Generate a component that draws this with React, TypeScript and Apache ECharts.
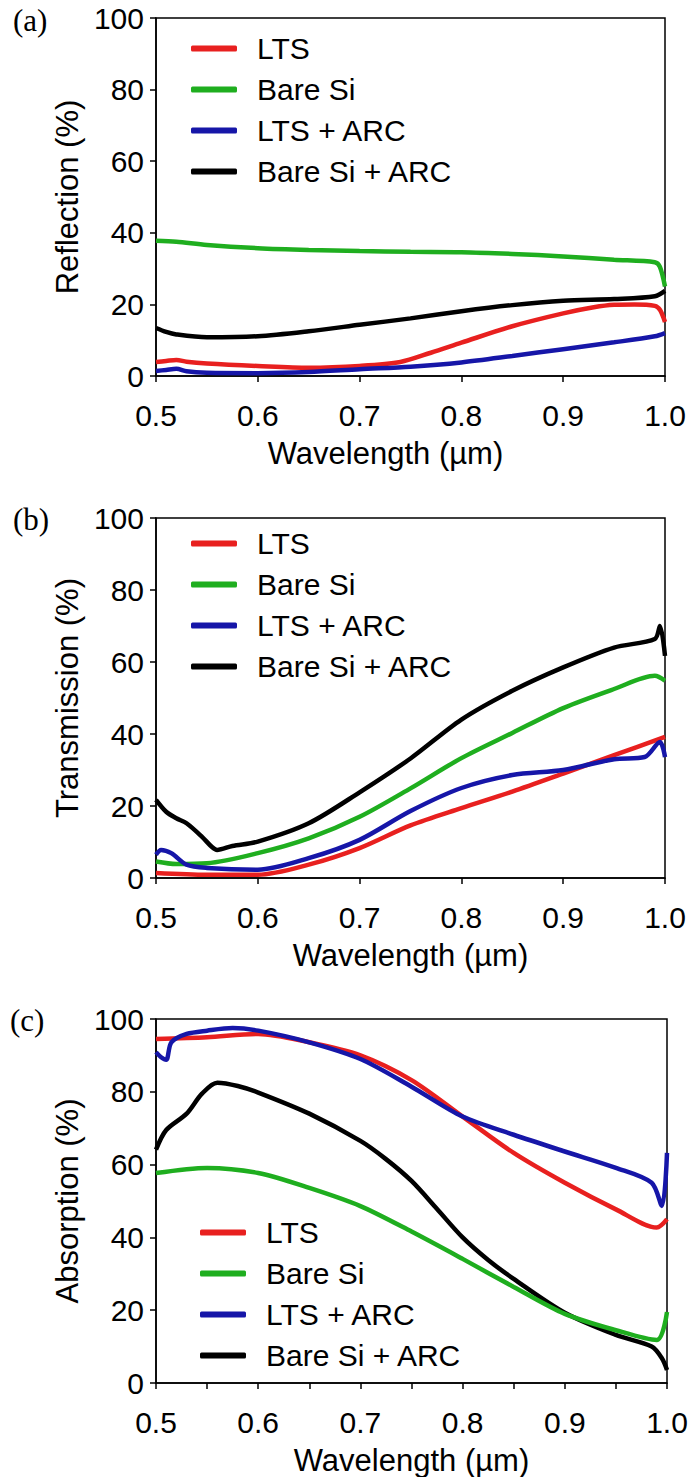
import React, { useEffect, useRef } from "react";
import * as echarts from "echarts";

// ---------- data (wavelength µm, percent) ----------
const seriesNames = ["LTS", "Bare Si", "LTS + ARC", "Bare Si + ARC"];
const seriesColors = ["#e8201f", "#1fae1f", "#1616a8", "#000000"];
const xTicks = [0.5, 0.6, 0.7, 0.8, 0.9, 1.0];
const yTicks = [0, 20, 40, 60, 80, 100];

// (a) Reflection
const reflLTS = [[0.5,3.9],[0.51,4.2],[0.52,4.5],[0.53,4.0],[0.55,3.5],[0.6,2.8],[0.65,2.3],[0.7,2.8],[0.74,3.9],[0.77,6.5],[0.8,9.3],[0.85,13.9],[0.9,17.5],[0.93,19.2],[0.95,19.9],[0.97,20.0],[0.99,19.6],[0.995,18.5],[1.0,15.1]];
const reflBareSi = [[0.5,37.8],[0.52,37.5],[0.55,36.6],[0.6,35.7],[0.65,35.2],[0.7,34.9],[0.75,34.7],[0.8,34.6],[0.85,34.1],[0.9,33.4],[0.95,32.5],[0.99,31.8],[0.995,30.5],[1.0,25.0]];
const reflLTSARC = [[0.5,1.4],[0.51,1.7],[0.52,2.0],[0.53,1.3],[0.55,0.9],[0.6,0.8],[0.65,1.1],[0.7,1.9],[0.75,2.6],[0.8,3.8],[0.85,5.6],[0.9,7.5],[0.95,9.4],[0.99,11.1],[1.0,12.0]];
const reflBareSiARC = [[0.5,13.4],[0.51,12.3],[0.52,11.6],[0.55,10.8],[0.6,11.1],[0.65,12.5],[0.7,14.3],[0.75,16.1],[0.8,18.1],[0.85,19.8],[0.9,21.0],[0.95,21.5],[0.99,22.3],[1.0,23.8]];

// (b) Transmission
const transLTS = [[0.5,1.4],[0.55,0.9],[0.6,0.9],[0.65,3.7],[0.7,8.3],[0.75,14.6],[0.8,19.4],[0.85,24.0],[0.9,29.0],[0.95,34.1],[1.0,39.2]];
const transBareSi = [[0.5,4.6],[0.52,3.9],[0.55,4.1],[0.6,6.9],[0.65,11.0],[0.7,17.0],[0.75,24.9],[0.8,33.3],[0.85,40.3],[0.9,47.2],[0.95,52.5],[0.99,56.2],[1.0,54.8]];
const transLTSARC = [[0.5,6.5],[0.505,7.8],[0.515,6.9],[0.53,3.7],[0.55,2.8],[0.6,2.3],[0.65,5.5],[0.7,10.6],[0.75,18.6],[0.8,25.0],[0.85,28.6],[0.9,30.0],[0.95,33.0],[0.98,33.6],[0.995,37.8],[1.0,33.6]];
const transBareSiARC = [[0.5,21.7],[0.51,18.4],[0.52,16.6],[0.53,15.2],[0.545,11.5],[0.555,8.6],[0.56,7.8],[0.575,8.9],[0.6,10.1],[0.65,15.2],[0.7,23.8],[0.75,33.2],[0.8,44.0],[0.85,52.0],[0.9,58.5],[0.95,64.0],[0.99,66.4],[0.995,70.0],[1.0,61.7]];

// (c) Absorption
const absLTS = [[0.5,94.5],[0.55,95.0],[0.6,95.9],[0.65,93.6],[0.7,90.0],[0.75,83.2],[0.8,73.2],[0.85,63.2],[0.9,55.0],[0.95,47.7],[0.99,42.7],[1.0,45.0]];
const absBareSi = [[0.5,57.7],[0.55,59.1],[0.6,57.7],[0.65,53.6],[0.7,48.6],[0.75,41.6],[0.8,34.1],[0.85,26.4],[0.9,19.0],[0.95,14.5],[0.99,11.8],[1.0,19.5]];
const absLTSARC = [[0.5,90.9],[0.505,89.5],[0.51,88.8],[0.515,93.6],[0.53,95.9],[0.55,96.8],[0.575,97.5],[0.6,96.8],[0.65,93.6],[0.7,89.0],[0.75,81.4],[0.8,73.2],[0.85,68.2],[0.9,63.6],[0.95,59.1],[0.985,55.0],[0.995,48.6],[1.0,63.2]];
const absBareSiARC = [[0.5,64.1],[0.51,69.5],[0.53,74.0],[0.545,79.5],[0.56,82.5],[0.58,81.6],[0.6,79.8],[0.65,74.0],[0.7,66.5],[0.725,61.5],[0.75,55.5],[0.775,47.8],[0.8,40.0],[0.825,33.8],[0.85,28.6],[0.9,19.3],[0.95,13.2],[0.985,10.0],[0.995,6.8],[1.0,3.6]];

const panels = [
  { label: "(a)", yName: "Reflection (%)", data: [reflLTS, reflBareSi, reflLTSARC, reflBareSiARC] },
  { label: "(b)", yName: "Transmission (%)", data: [transLTS, transBareSi, transLTSARC, transBareSiARC] },
  { label: "(c)", yName: "Absorption (%)", data: [absLTS, absBareSi, absLTSARC, absBareSiARC] },
];

// ---------- layout ----------
const grids = [
  { left: 156, top: 18, width: 509, height: 358 },
  { left: 156, top: 518, width: 509, height: 360 },
  { left: 156, top: 1019, width: 511, height: 366 },
];
const legendPos = [
  { left: 186, top: 28 },
  { left: 186, top: 523 },
  { left: 195, top: 1212 },
];
const labelPos = [
  { left: 13, top: 5 },
  { left: 13, top: 504 },
  { left: 10, top: 1005 },
];
const xNamePad = [[0, 50, 0, 0], [0, 0, 0, 0], [0, 0, 0, 0]];

const FONT = "Liberation Sans, Arial, sans-serif";

export default function App() {
  const ref = useRef<HTMLDivElement>(null);
  useEffect(() => {
    document.body.style.margin = "0";
    const chart = echarts.init(ref.current!, null, { renderer: "svg" });
    const xAxis: any[] = [];
    const yAxis: any[] = [];
    const series: any[] = [];
    const legend: any[] = [];
    const graphic: any[] = [];
    panels.forEach((p, i) => {
      const minor = i === 2;
      xAxis.push({
        gridIndex: i,
        type: "value",
        min: 0.5,
        max: 1.0,
        interval: minor ? 0.05 : 0.1,
        name: "Wavelength (µm)",
        nameLocation: "middle",
        nameGap: 62,
        nameTextStyle: { fontSize: 31, color: "#000", fontFamily: FONT, padding: xNamePad[i] },
        axisLine: { show: true, onZero: false, lineStyle: { color: "#000", width: 1.5 } },
        axisTick: { show: true, inside: false, length: 6, lineStyle: { color: "#000", width: 1.5 } },
        axisLabel: {
          fontSize: 30,
          color: "#000",
          fontFamily: FONT,
          margin: 24,
          formatter: (v: number) => {
            const r = Math.round(v * 100);
            const t = xTicks.find((x) => Math.round(x * 100) === r);
            return t !== undefined ? t.toFixed(1) : "";
          },
        },
        splitLine: { show: false },
      });
      yAxis.push({
        gridIndex: i,
        type: "value",
        min: yTicks[0],
        max: yTicks[yTicks.length - 1],
        interval: 20,
        name: p.yName,
        nameLocation: "middle",
        nameGap: 70,
        nameTextStyle: { fontSize: 31, color: "#000", fontFamily: FONT },
        axisLine: { show: true, lineStyle: { color: "#000", width: 1.5 } },
        axisTick: { show: true, inside: false, length: 6, lineStyle: { color: "#000", width: 1.5 } },
        axisLabel: { fontSize: 30, color: "#000", fontFamily: FONT, margin: 12 },
        splitLine: { show: false },
      });
      p.data.forEach((d, k) => {
        series.push({
          type: "line",
          name: seriesNames[k],
          xAxisIndex: i,
          yAxisIndex: i,
          data: d,
          showSymbol: false,
          smooth: 0.3,
          color: seriesColors[k],
          lineStyle: { color: seriesColors[k], width: 4.5 },
          z: k === 3 ? 2 : 3,
        });
      });
      legend.push({
        orient: "vertical",
        left: legendPos[i].left,
        top: legendPos[i].top,
        data: seriesNames,
        selectedMode: false,
        icon: "roundRect",
        itemWidth: 46,
        itemHeight: 6,
        itemGap: 10,
        textStyle: { fontSize: 30, lineHeight: 31, color: "#000", fontFamily: FONT, padding: [0, 0, 0, 15] },
      });
      graphic.push({
        type: "text",
        left: labelPos[i].left,
        top: labelPos[i].top,
        style: { text: p.label, fontSize: 31, fill: "#000", fontFamily: "Liberation Serif, Times New Roman, serif" },
      });
    });
    chart.setOption({
      animation: false,
      backgroundColor: "#fff",
      grid: grids.map((g) => ({ ...g, show: true, borderColor: "#000", borderWidth: 1.5, backgroundColor: "transparent" })),
      xAxis,
      yAxis,
      series,
      legend,
      graphic,
    });
    return () => chart.dispose();
  }, []);
  return <div ref={ref} style={{ width: 691, height: 1477 }} />;
}
